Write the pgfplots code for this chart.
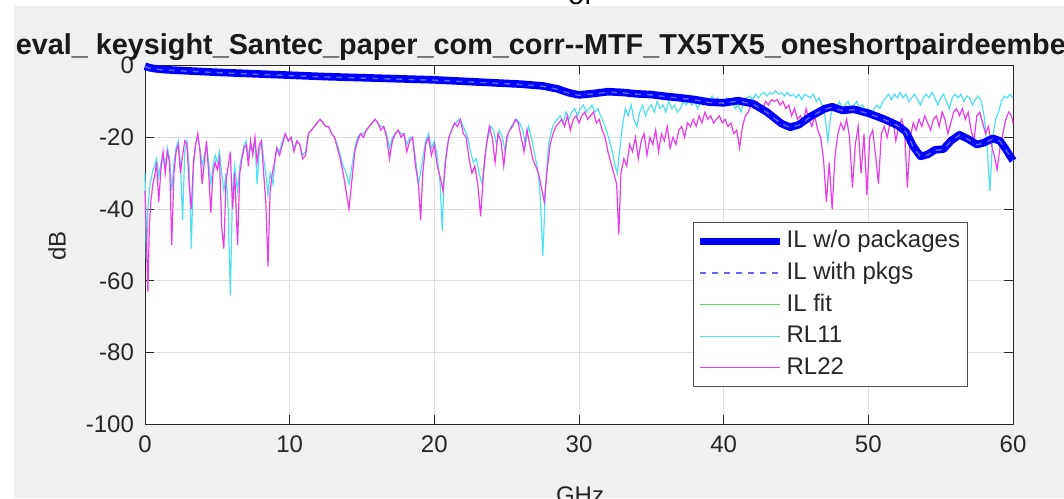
\documentclass[border=0pt]{standalone}
\usepackage{fontspec}
\setmainfont{Liberation Sans}
\usepackage{pgfplots}
\pgfplotsset{compat=1.18}
\definecolor{figbg}{RGB}{240,240,240}
\definecolor{axgray}{RGB}{38,38,38}
\definecolor{gridc}{RGB}{223,223,223}
\definecolor{rlc}{RGB}{80,225,240}
\definecolor{rlm}{RGB}{235,60,235}
\definecolor{ilw}{RGB}{100,100,240}
\definecolor{ilfit}{RGB}{90,220,90}

\pgfplotstableread{
x y
0.0 -0.2
0.3 -0.6
0.7 -0.9
1.5 -1.2
3 -1.5
5 -1.9
7.5 -2.3
10 -2.7
12.5 -3.1
15 -3.4
17.5 -3.7
20 -4.0
22 -4.4
24 -4.8
26 -5.2
27.5 -5.7
28.5 -6.5
29.3 -7.6
30 -8.2
31 -7.8
32 -7.3
33 -7.5
34 -7.9
35 -8.1
36 -8.6
37 -9.0
38 -9.5
39 -10.2
40 -10.4
41 -9.8
42 -10.6
43 -13.0
44 -16.2
44.6 -17.2
45.2 -16.5
46 -14.2
47 -12.0
47.5 -11.5
48.2 -12.5
49 -12.2
50 -13.3
51 -14.8
52 -16.6
52.6 -18.5
53.1 -22.5
53.6 -25.3
54.1 -24.8
54.6 -23.5
55.2 -23.3
55.7 -21.0
56.3 -19.3
56.9 -20.5
57.5 -22.0
58.0 -21.5
58.6 -20.3
59.1 -21.0
59.5 -23.3
60.0 -26.5
}\ilwo

\pgfplotstableread{
x y
0.0 -0.3
0.3 -0.7
0.7 -1.0
1.5 -1.3
3 -1.6
5 -2.0
7.5 -2.4
10 -2.8
12.5 -3.2
15 -3.5
17.5 -3.8
20 -4.1
22 -4.5
24 -4.9
26 -5.3
27.5 -5.8
28.5 -6.6
29.3 -7.7
30 -8.3
31 -7.9
32 -7.4
33 -7.6
34 -8.0
35 -8.2
36 -8.7
37 -9.1
38 -9.6
39 -10.3
40 -10.5
41 -9.9
42 -10.7
43 -13.1
44 -16.3
44.6 -17.3
45.2 -16.6
46 -14.3
47 -12.1
47.5 -11.6
48.2 -12.6
49 -12.3
50 -13.4
51 -14.9
52 -16.7
52.6 -18.6
53.1 -22.6
53.6 -25.4
54.1 -24.9
54.6 -23.6
55.2 -23.4
55.7 -21.1
56.3 -19.4
56.9 -20.6
57.5 -22.1
58.0 -21.6
58.6 -20.4
59.1 -21.1
59.5 -23.4
60.0 -26.6
}\ilwith

\pgfplotstableread{
x y
0.00 -30
0.10 -55
0.20 -40
0.35 -33
0.50 -30
0.65 -28
0.80 -26
0.95 -31
1.10 -27
1.25 -25
1.40 -28
1.55 -23
1.70 -26
1.85 -35
2.00 -27
2.15 -23
2.30 -21
2.45 -27
2.60 -43
2.75 -24
2.90 -21
3.05 -28
3.20 -51
3.35 -28
3.50 -22
3.65 -20
3.80 -23
3.95 -28
4.10 -25
4.25 -22
4.40 -27
4.55 -33
4.70 -28
4.85 -25
5.00 -27
5.15 -24
5.30 -30
5.45 -35
5.60 -30
5.75 -40
5.90 -64
6.05 -35
6.20 -28
6.40 -35
6.55 -28
6.70 -25
6.85 -22
7.00 -21
7.15 -26
7.30 -22
7.45 -24
7.60 -21
7.75 -33
7.90 -24
8.05 -21
8.20 -26
8.35 -30
8.50 -36
8.65 -30
8.85 -33
9.00 -26
9.15 -23
9.30 -24
9.50 -21
9.70 -19
9.90 -21
10.1 -20
10.3 -23
10.5 -21
10.7 -22
10.9 -25
11.1 -24
11.3 -19
11.5 -18
11.7 -17
11.9 -16
12.1 -15
12.3 -16
12.5 -17
12.7 -17
12.9 -19
13.1 -20
13.3 -22
13.5 -25
13.7 -28
13.9 -30
14.1 -33
14.3 -28
14.5 -23
14.7 -20
14.9 -19
15.1 -19
15.3 -18
15.5 -17
15.7 -16
15.9 -15
16.1 -16
16.3 -17
16.5 -17
16.7 -19
16.9 -23
17.1 -20
17.3 -19
17.5 -18
17.7 -19
17.9 -19
18.1 -22
18.3 -20
18.5 -20
18.7 -26
18.9 -33
19.05 -30
19.2 -26
19.4 -21
19.6 -19
19.8 -23
20.0 -21
20.2 -25
20.4 -33
20.55 -46
20.7 -28
20.9 -22
21.1 -19
21.3 -17
21.5 -16
21.7 -15
21.9 -16
22.1 -18
22.3 -20
22.5 -24
22.7 -27
22.9 -26
23.1 -30
23.3 -33
23.5 -25
23.7 -20
23.9 -17
24.1 -18
24.3 -22
24.5 -18
24.7 -20
24.9 -24
25.1 -19
25.3 -17
25.5 -16
25.7 -15
25.9 -16
26.1 -18
26.3 -22
26.5 -17
26.7 -20
26.9 -24
27.1 -28
27.3 -35
27.5 -53
27.7 -33
27.9 -22
28.1 -18
28.3 -16
28.5 -15
28.7 -14
28.9 -16
29.1 -13
29.3 -15
29.5 -13
29.7 -12
29.9 -14
30.1 -12
30.3 -11
30.5 -13
30.7 -12
30.9 -11
31.1 -13
31.3 -12
31.5 -14
31.7 -16
31.9 -18
32.1 -21
32.3 -24
32.5 -28
32.65 -30
32.8 -24
33.0 -17
33.2 -12
33.4 -14
33.6 -11
33.8 -15
34.0 -17
34.2 -13
34.4 -11
34.6 -14
34.8 -12
35.0 -11
35.2 -13
35.4 -10
35.6 -12
35.8 -11
36.0 -13
36.2 -10
36.4 -12
36.6 -11
36.8 -13
37.0 -12
37.2 -10
37.4 -11
37.6 -9.5
37.8 -11
38.0 -10
38.2 -12
38.4 -10
38.6 -11
38.8 -9
39.0 -10
39.2 -8.5
39.4 -10
39.6 -9
39.8 -11
40.0 -10
40.2 -9
40.4 -11
40.6 -10
40.8 -12
41.0 -11
41.2 -13
41.4 -10
41.6 -9
41.8 -8.5
42.0 -9.5
42.2 -8
42.4 -9
42.6 -8
42.8 -7.5
43.0 -8.5
43.2 -7.5
43.4 -8
43.6 -7
43.8 -8
44.0 -7.5
44.2 -8.5
44.4 -7.5
44.6 -8.5
44.8 -8
45.0 -9
45.2 -8
45.4 -9.5
45.6 -8
45.8 -8.5
46.0 -9
46.2 -8
46.4 -10
46.6 -9
46.8 -11
47.0 -14
47.2 -21
47.4 -14
47.6 -11
47.8 -12
48.0 -10
48.2 -12
48.4 -11
48.6 -10
48.8 -12
49.0 -11
49.2 -10
49.4 -12
49.6 -11
49.8 -13
50.0 -12
50.2 -14
50.4 -12
50.6 -11
50.8 -12
51.0 -10
51.2 -9
51.4 -8
51.6 -9.5
51.8 -8
52.0 -9
52.2 -7.5
52.4 -9
52.6 -8
52.8 -10
53.0 -9
53.2 -8
53.4 -9.5
53.6 -11
53.8 -9
54.0 -8
54.2 -9
54.4 -7.5
54.6 -9
54.8 -11
55.0 -9
55.2 -8
55.4 -10
55.6 -12
55.8 -9
56.0 -8
56.2 -9
56.4 -8
56.6 -10
56.8 -8.5
57.0 -9
57.2 -11
57.4 -9.5
57.6 -8.5
57.8 -10
58.0 -14
58.2 -22
58.4 -35
58.6 -20
58.8 -15
59.0 -13
59.2 -10
59.4 -8.5
59.6 -9
59.8 -8
60.0 -9
}\rlone

\pgfplotstableread{
x y
0.00 -35
0.10 -48
0.20 -63
0.30 -45
0.40 -38
0.55 -33
0.70 -30
0.80 -27
0.95 -38
1.10 -29
1.25 -24
1.40 -30
1.55 -24
1.70 -27
1.85 -50
2.00 -30
2.15 -24
2.30 -22
2.45 -30
2.60 -25
2.75 -21
2.90 -22
3.05 -33
3.20 -40
3.35 -27
3.50 -22
3.65 -19
3.80 -24
3.95 -33
4.10 -27
4.25 -21
4.40 -30
4.55 -41
4.70 -30
4.85 -27
5.00 -29
5.15 -26
5.30 -45
5.45 -51
5.60 -32
5.75 -28
5.90 -24
6.05 -40
6.20 -30
6.40 -50
6.55 -30
6.70 -26
6.85 -23
7.00 -22
7.15 -28
7.30 -21
7.45 -25
7.60 -20
7.75 -27
7.90 -22
8.05 -21
8.20 -30
8.35 -38
8.50 -56
8.65 -35
8.80 -30
8.95 -27
9.10 -23
9.30 -25
9.50 -22
9.70 -19
9.90 -21
10.1 -20
10.3 -24
10.5 -21
10.7 -22
10.9 -26
11.1 -25
11.3 -19
11.5 -18
11.7 -17
11.9 -16
12.1 -15
12.3 -16
12.5 -17
12.7 -17
12.9 -19
13.1 -20
13.3 -23
13.5 -26
13.7 -30
13.9 -35
14.1 -40
14.3 -32
14.5 -24
14.7 -21
14.9 -19
15.1 -20
15.3 -18
15.5 -17
15.7 -16
15.9 -15
16.1 -16
16.3 -18
16.5 -17
16.7 -20
16.9 -26
17.1 -21
17.3 -19
17.5 -18
17.7 -20
17.9 -19
18.1 -24
18.3 -21
18.5 -20
18.7 -28
18.9 -33
19.05 -43
19.2 -30
19.4 -22
19.6 -20
19.8 -25
20.0 -22
20.2 -28
20.4 -31
20.6 -35
20.8 -26
21.0 -20
21.2 -18
21.4 -16
21.6 -17
21.8 -15
22.0 -19
22.2 -20
22.4 -26
22.6 -30
22.8 -28
23.0 -33
23.2 -42
23.4 -30
23.6 -22
23.8 -17
24.0 -20
24.2 -27
24.4 -19
24.6 -21
24.8 -28
25.0 -20
25.2 -18
25.4 -17
25.6 -15
25.8 -16
26.0 -20
26.2 -24
26.4 -18
26.6 -22
26.8 -26
27.0 -28
27.2 -30
27.4 -34
27.6 -38
27.8 -29
28.0 -22
28.2 -19
28.4 -17
28.6 -16
28.8 -15
29.0 -17
29.2 -14
29.4 -18
29.6 -15
29.8 -14
30.0 -16
30.2 -14
30.4 -13
30.6 -15
30.8 -14
31.0 -13
31.2 -16
31.4 -15
31.6 -18
31.8 -20
32.0 -24
32.2 -27
32.4 -30
32.6 -33
32.75 -47
32.9 -30
33.1 -26
33.3 -28
33.5 -22
33.7 -24
33.9 -20
34.1 -26
34.3 -21
34.5 -19
34.7 -25
34.9 -20
35.1 -22
35.3 -18
35.5 -24
35.7 -19
35.9 -21
36.1 -17
36.3 -23
36.5 -20
36.7 -22
36.9 -18
37.1 -17
37.3 -20
37.5 -16
37.7 -17
37.9 -15
38.1 -17
38.3 -14
38.5 -16
38.7 -13
38.9 -15
39.1 -14
39.3 -16
39.5 -15
39.7 -14
39.9 -16
40.1 -15
40.3 -17
40.5 -16
40.7 -19
40.9 -18
41.1 -23
41.3 -17
41.5 -14
41.7 -13
41.9 -11
42.1 -12
42.3 -10
42.5 -11
42.7 -12
42.9 -10
43.1 -11
43.3 -9.5
43.5 -10
43.7 -9.5
43.9 -11
44.1 -10
44.3 -12
44.5 -11
44.7 -14
44.9 -12
45.1 -15
45.3 -14
45.5 -16
45.7 -12
45.9 -15
46.1 -17
46.3 -14
46.5 -18
46.7 -20
46.9 -26
47.1 -38
47.3 -27
47.5 -40
47.7 -25
47.9 -19
48.1 -16
48.3 -18
48.5 -15
48.7 -20
48.9 -34
49.1 -22
49.3 -17
49.5 -30
49.7 -19
49.9 -36
50.1 -20
50.3 -18
50.5 -25
50.7 -33
50.9 -19
51.1 -17
51.3 -20
51.5 -16
51.7 -15
51.9 -21
52.1 -17
52.3 -15
52.5 -18
52.7 -34
52.9 -20
53.1 -16
53.3 -18
53.5 -15
53.7 -17
53.9 -14
54.1 -16
54.3 -18
54.5 -15
54.7 -14
54.9 -17
55.1 -13
55.3 -15
55.5 -19
55.7 -16
55.9 -13
56.1 -12
56.3 -14
56.5 -12
56.7 -15
56.9 -13
57.1 -18
57.3 -21
57.5 -14
57.7 -13
57.9 -16
58.1 -19
58.3 -17
58.5 -22
58.7 -25
58.9 -29
59.1 -23
59.3 -19
59.5 -15
59.7 -13
59.9 -14
60.0 -16
}\rltwo

\begin{document}
\begin{tikzpicture}
\path[use as bounding box] (0,0) rectangle (532pt,249pt);
\fill[white] (0,0) rectangle (532pt,249pt);
\fill[figbg] (7pt,0) rectangle (532pt,246pt);
\node[anchor=base, inner sep=0, font=\fontsize{14.4}{16}\selectfont] at (290pt,246.8pt) {of};
\begin{axis}[
  at={(72.5pt,36.75pt)}, anchor=south west,
  scale only axis, width=434pt, height=179.5pt,
  xmin=0, xmax=60, ymin=-100, ymax=0,
  xtick={0,10,...,60}, ytick={-100,-80,...,0},
  grid=major, major grid style={gridc, line width=0.5pt},
  axis line style={axgray, line width=0.5pt},
  tick style={axgray, line width=0.5pt}, tick align=inside, major tick length=4.5pt,
  tick label style={font=\fontsize{12}{14}\selectfont, text=axgray},
  /pgf/number format/assume math mode=true,
  xticklabel style={yshift=-2.25pt}, yticklabel style={xshift=-2pt},
  axis background/.style={fill=white},
  clip=false,
  legend style={at={(0.631,0.563)}, anchor=north west, draw=axgray!80, line width=0.5pt,
    fill=white, font=\fontsize{12}{14}\selectfont, text=black!85, inner sep=2pt,
    nodes={inner sep=1.5pt, text height=9pt, text depth=2.5pt}, row sep=1.3pt},
  legend cell align=left,
  legend image code/.code={\draw[#1] (0pt,0pt) -- (40pt,0pt);},
]
\addlegendimage{blue, line width=3.2pt}
\addlegendentry{IL w/o packages}
\addlegendimage{ilw, dashed, line width=0.7pt}
\addlegendentry{IL with pkgs}
\addlegendimage{ilfit, line width=0.6pt}
\addlegendentry{IL fit}
\addlegendimage{rlc, line width=0.6pt}
\addlegendentry{RL11}
\addlegendimage{rlm, line width=0.6pt}
\addlegendentry{RL22}

\addplot[ilfit, line width=0.6pt, forget plot] table[x=x,y=y] {\ilwo};
\addplot[rlc, line width=0.6pt, forget plot] table[x=x,y=y] {\rlone};
\addplot[rlm, line width=0.6pt, forget plot] table[x=x,y=y] {\rltwo};
\addplot[blue, line width=3.8pt, line join=round, forget plot] table[x=x,y=y] {\ilwo};
\addplot[ilw, dashed, line width=0.7pt, forget plot] table[x=x,y=y] {\ilwith};
\end{axis}
\node[anchor=base west, inner sep=0, font=\fontsize{14.4}{16}\selectfont\bfseries, text=black!90] at (7.75pt,221.5pt) {eval\_ keysight\_Santec\_paper\_com\_corr-{}-MTF\_TX5TX5\_oneshortpairdeembed};
\node[anchor=north, inner sep=0, font=\fontsize{12}{14}\selectfont, text=axgray] at (290pt,6pt) {GHz};
\node[rotate=90, inner sep=0, font=\fontsize{12}{14}\selectfont, text=axgray] at (28.5pt,126pt) {dB};
\end{tikzpicture}
\end{document}
